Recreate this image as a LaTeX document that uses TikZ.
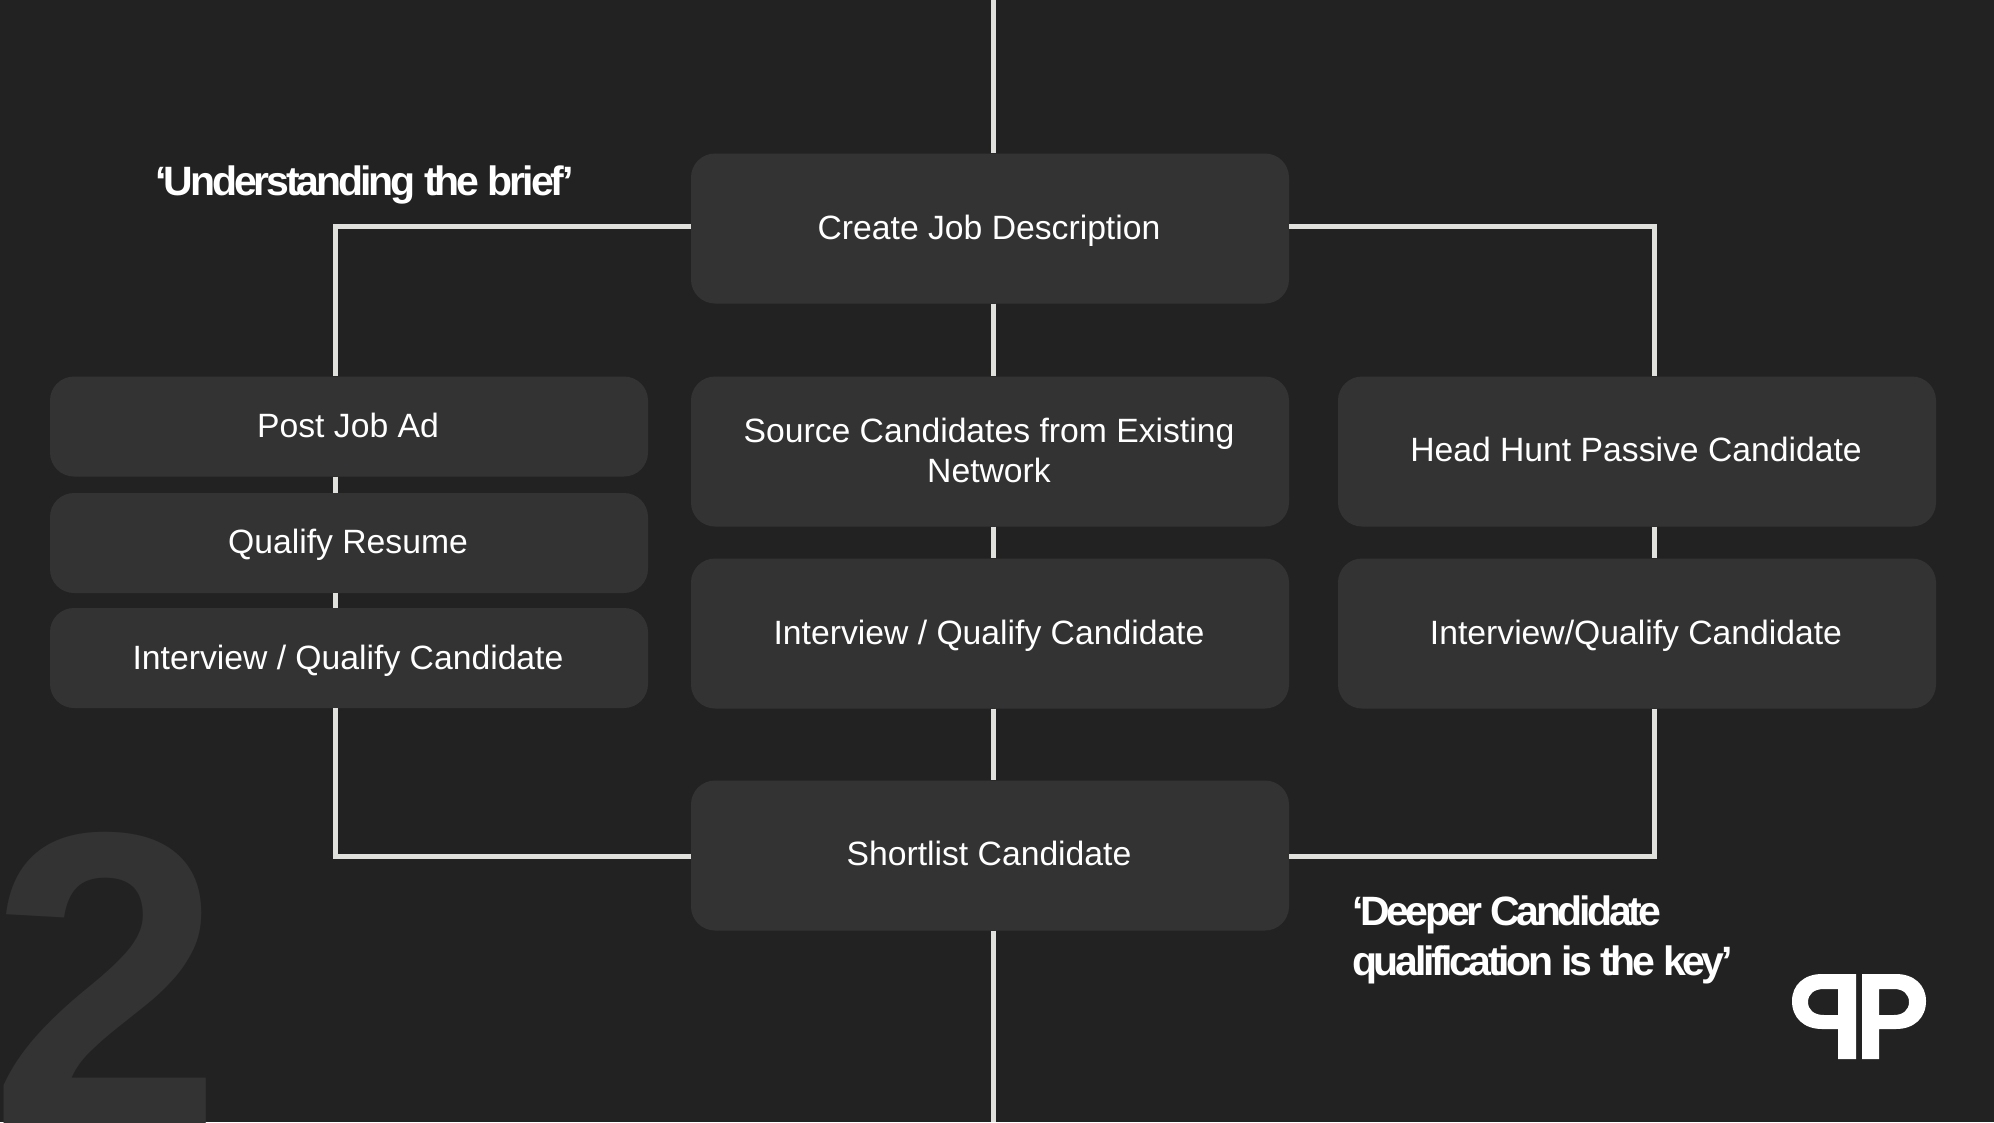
\documentclass[tikz,border=0pt]{standalone}
\usepackage{fontspec}
\setmainfont{Liberation Sans}
\newfontfamily\quotefont[LetterSpace=-7.5]{Liberation Sans}
\newfontfamily\quotefontb[LetterSpace=-8.2]{Liberation Sans}
\usetikzlibrary{calc}
\definecolor{bgdark}{HTML}{222222}
\definecolor{boxfill}{HTML}{333333}
\definecolor{linecol}{HTML}{E0E0DC}
\tikzset{
  card/.style={fill=boxfill,draw=none,rounded corners=24pt,inner sep=0pt,minimum width=598pt,text width=560pt,align=center,text=white},
  tall/.style={card,minimum height=150pt},
  short/.style={card,minimum height=100pt},
  conn/.style={draw=linecol,line width=5pt,line join=miter},
  lab/.style={text=white,align=center,font=\fontsize{33.7}{40}\selectfont},
  quotetext/.style={text=white,inner sep=0pt,anchor=base west,align=left,font=\fontsize{41}{50}\selectfont\quotefont\bfseries},
  quotetextb/.style={quotetext,font=\fontsize{41}{50}\selectfont\quotefontb\bfseries},
}
\begin{document}
\begin{tikzpicture}[x=1pt,y=-1pt]
\useasboundingbox (0,0) rectangle (1994,1122);
\clip (0,0) rectangle (1994,1122);
\fill[bgdark] (0,0) rectangle (1994,1122);
\node[anchor=base west,inner sep=0pt,text=boxfill,font=\fontsize{420}{420}\selectfont\bfseries] (bignum) at (-11,1125) {2};
\coordinate (topend) at (993,0);
\coordinate (botend) at (993,1122);
\coordinate (lx) at (335.5,0);
\coordinate (rx) at (1654.5,0);
\node[tall] (create) at (990,228.5) {};
\node[short] (post) at (349,426.5) {};
\node[short] (qual) at (349,543) {};
\node[short] (intl) at (349,658) {};
\node[tall] (source) at (990,451.5) {};
\node[tall] (intm) at (990,633.5) {};
\node[tall] (head) at (1637,451.5) {};
\node[tall] (intr) at (1637,633.5) {};
\node[tall] (short) at (990,855.5) {};
% connectors
\draw[conn] (topend) -- (topend |- create.north);
\draw[conn] (topend |- create.south) -- (topend |- source.north);
\draw[conn] (topend |- source.south) -- (topend |- intm.north);
\draw[conn] (topend |- intm.south) -- (topend |- short.north);
\draw[conn] (topend |- short.south) -- (botend);
\draw[conn] (create.west |- 0,226.5) -| (lx |- post.north);
\draw[conn] (create.east |- 0,226.5) -| (rx |- head.north);
\draw[conn] (lx |- post.south) -- (lx |- qual.north);
\draw[conn] (lx |- qual.south) -- (lx |- intl.north);
\draw[conn] (lx |- intl.south) |- (short.west |- 0,856);
\draw[conn] (rx |- head.south) -- (rx |- intr.north);
\draw[conn] (rx |- intr.south) |- (short.east |- 0,856);
% labels
\node[lab] (tcreate) at (989,230.5) {Create Job Description};
\node[lab] (tpost) at (348,425) {Post Job Ad};
\node[lab] (tqual) at (348,544.5) {Qualify Resume};
\node[lab] (tintl) at (348,660.5) {Interview / Qualify Candidate};
\node[lab] (tsource) at (989,450) {Source Candidates from Existing\\Network};
\node[lab] (tintm) at (989,636) {Interview / Qualify Candidate};
\node[lab] (thead) at (1636,449) {Head Hunt Passive Candidate};
\node[lab] (tintr) at (1636,636) {Interview/Qualify Candidate};
\node[lab] (tshort) at (989,853) {Shortlist Candidate};
\node[quotetext] (q1) at (155,195) {‘Understanding the brief’};
\node[quotetextb] (q2) at (1352,925) {‘Deeper Candidate};
\node[quotetextb] (q3) at (1352,975) {qualification is the key’};
% logo
\fill[white,even odd rule]
  (1856,974) -- (1856,1059) -- (1838,1059) -- (1838,1029) -- (1822,1029)
  .. controls (1804,1029) and (1792,1018) .. (1792,1001)
  .. controls (1792,985) and (1804,974) .. (1822,974) -- cycle
  (1838,989) -- (1824,989) .. controls (1814,989) and (1808,994) .. (1808,1002)
  .. controls (1808,1010) and (1814,1015) .. (1824,1015) -- (1838,1015) -- cycle;
\fill[white,even odd rule]
  (1862,974) -- (1862,1059) -- (1879,1059) -- (1879,1029) -- (1896,1029)
  .. controls (1914,1029) and (1926,1018) .. (1926,1001)
  .. controls (1926,985) and (1914,974) .. (1896,974) -- cycle
  (1879,989) -- (1894,989) .. controls (1903,989) and (1909,994) .. (1909,1002)
  .. controls (1909,1010) and (1903,1015) .. (1894,1015) -- (1879,1015) -- cycle;
\end{tikzpicture}
\end{document}
